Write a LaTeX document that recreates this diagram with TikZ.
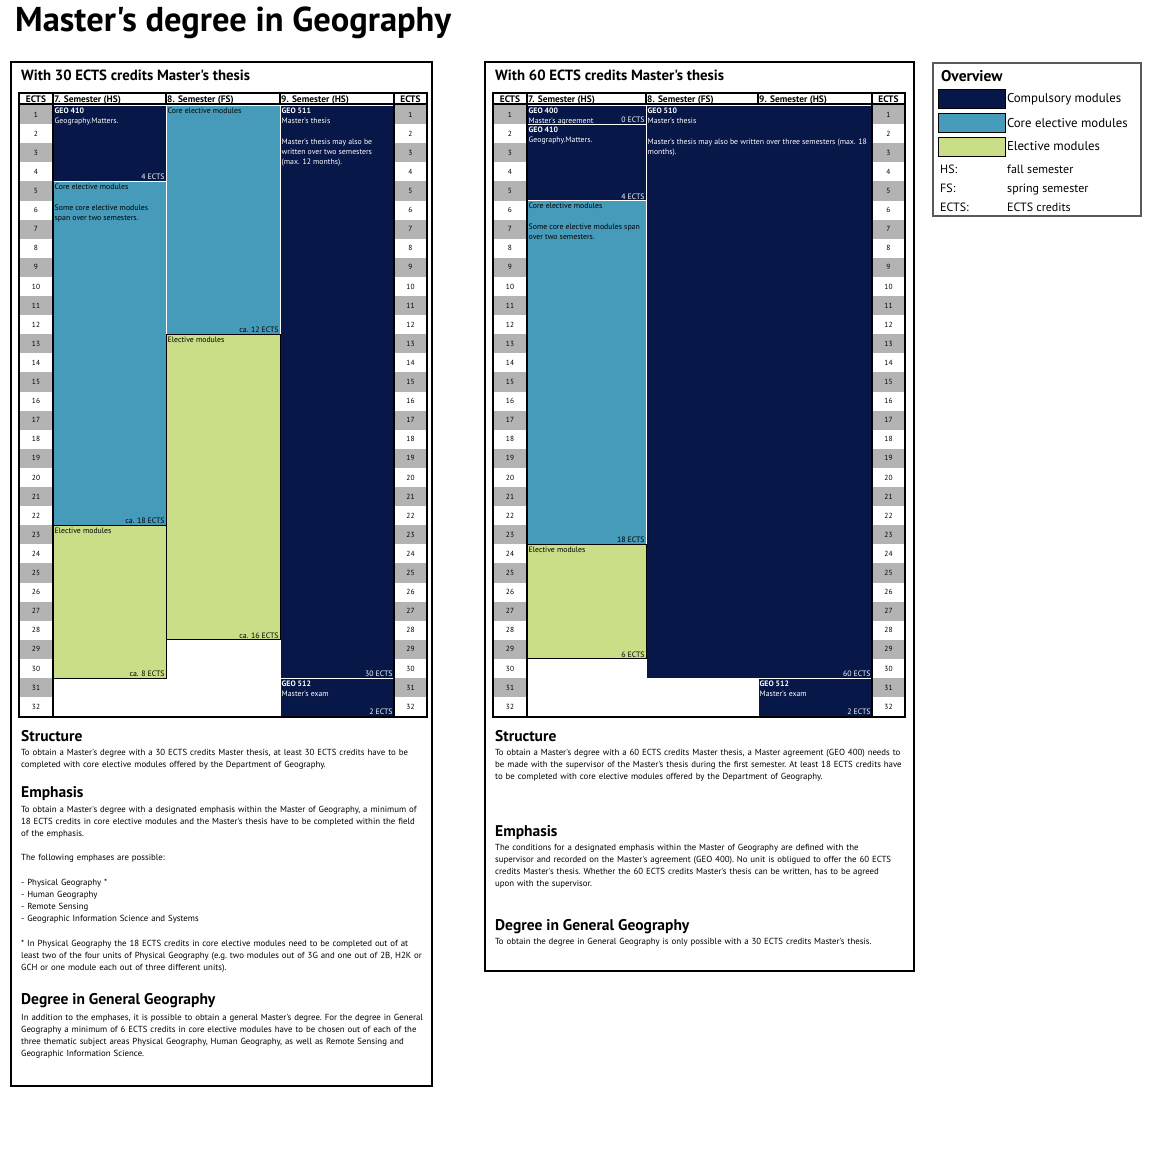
\documentclass[tikz,border=0pt]{standalone}
\usepackage{fontspec}
\setmainfont{PT Sans}[Ligatures=TeXOff]
\usetikzlibrary{positioning, calc}

\definecolor{compBlue}{HTML}{061748}
\definecolor{coreBlue}{HTML}{479BBA}
\definecolor{electGreen}{HTML}{C9DE86}
\definecolor{stripeGray}{HTML}{B3B3B3}
\definecolor{frameGray}{HTML}{5A5A5A}

% module block: name, style, x left, x right, first row, last row
\newcommand{\ModBlock}[6]{
    \node[#2, minimum width={(#4)-(#3)}, minimum height={((#6)-(#5)+1)*19.1}]
        (#1) at ({((#3)+(#4))/2}, {105+((#5)-1+((#6)-(#5)+1)/2)*19.1}) {};
}

% table: prefix, x of ECTS left, 7. Sem, 8. Sem, 9. Sem, ECTS right, right edge
\newcommand{\DrawTable}[7]{
    \foreach \r in {1,...,32}{
        \ifodd\r\relax
            \fill[stripeGray] (#2+1, {105+(\r-1)*19.1}) rectangle (#3-1, {105+\r*19.1});
            \fill[stripeGray] (#6+1, {105+(\r-1)*19.1}) rectangle (#7-1, {105+\r*19.1});
        \fi
        \node[rowNum] (#1-l\r) at ({(#2+#3)/2}, {105+(\r-0.5)*19.1}) {\r};
        \node[rowNum] (#1-r\r) at ({(#6+#7)/2}, {105+(\r-0.5)*19.1}) {\r};
    }
    \node[headText, anchor=base] (#1-hl) at ({(#2+#3)/2}, 102) {ECTS};
    \node[headText, anchor=base west] (#1-h7) at (#3, 102) {7. Semester (HS)};
    \node[headText, anchor=base west] (#1-h8) at (#4, 102) {8. Semester (FS)};
    \node[headText, anchor=base west] (#1-h9) at (#5, 102) {9. Semester (HS)};
    \node[headText, anchor=base] (#1-hr) at ({(#6+#7)/2}, 102) {ECTS};
}
\newcommand{\TableRules}[7]{
    \draw[colRule] (#3,93) -- (#3,717) (#6,93) -- (#6,717);
    \draw[colRule] (#4,93) -- (#4,104) (#5,93) -- (#5,104);
    \draw[headRule] (#2,104) -- (#7,104);
    \draw[tableFrame] (#2,93) rectangle (#7,717);
}

\tikzset{
    % Frames
    panelFrame/.style={draw=black, line width=2pt},
    tableFrame/.style={draw=black, line width=2.2pt},
    headRule/.style={draw=black, line width=2pt},
    colRule/.style={draw=black, line width=1.3pt},
    overviewFrame/.style={draw=frameGray, line width=1.2pt},
    % Table
    rowNum/.style={inner sep=0pt, font=\fontsize{7.4}{8}\selectfont},
    headText/.style={inner sep=1pt, font=\bfseries\fontsize{9.4}{10}\selectfont},
    compBlock/.style={fill=compBlue, draw=white, line width=1pt, inner sep=0pt, outer sep=0pt},
    coreBlock/.style={fill=coreBlue, draw=white, line width=1pt, inner sep=0pt, outer sep=0pt},
    electBlock/.style={fill=electGreen, draw=black, line width=1pt, inner sep=0pt, outer sep=0pt},
    modLabel/.style={anchor=north west, align=left, inner sep=1.5pt, yshift=-1pt, font=\fontsize{7.8}{10.3}\selectfont},
    ectsTag/.style={anchor=south east, inner sep=1.2pt, font=\fontsize{7.8}{8}\selectfont},
    % Text
    docTitle/.style={anchor=base west, inner sep=0pt, font=\bfseries\fontsize{34.5}{38}\selectfont},
    panelTitle/.style={anchor=base west, inner sep=0pt, font=\bfseries\fontsize{14.8}{16}\selectfont},
    sectHead/.style={anchor=base west, inner sep=0pt, font=\bfseries\fontsize{15.5}{17}\selectfont},
    bodyText/.style={anchor=base west, inner sep=0pt, text width=440pt, align=left, font=\fontsize{8.8}{12.2}\selectfont\frenchspacing},
    % Overview
    legendHead/.style={anchor=base west, inner sep=0pt, font=\bfseries\fontsize{15.5}{17}\selectfont},
    legendText/.style={inner sep=1pt, font=\fontsize{12.8}{14}\selectfont},
    keyText/.style={anchor=base west, inner sep=0pt, font=\fontsize{12}{14}\selectfont},
    swatch/.style={draw=black, line width=0.8pt, minimum width=67pt, minimum height=19pt, inner sep=0pt}
}

\begin{document}
\begin{tikzpicture}[x=1pt, y=-1pt]
    \useasboundingbox[fill=white] (0,0) rectangle (1154,1170);

    \node[docTitle] (docTitle) at (15,31) {Master's degree in Geography};

    % Left panel: 30 ECTS thesis
    \draw[panelFrame] (11,62) rectangle (432,1086);
    \node[panelTitle] (leftTitle) at (21,80) {With 30 ECTS credits Master's thesis};
    \DrawTable{lt}{19}{53}{166}{280}{394}{427}
    \ModBlock{lGeo410}{compBlock}{53}{166}{1}{4}
    \ModBlock{lCore7}{coreBlock}{53}{166}{5}{22}
    \ModBlock{lCore8}{coreBlock}{166}{280}{1}{12}
    \ModBlock{lGeo511}{compBlock}{280}{394}{1}{30}
    \ModBlock{lGeo512}{compBlock}{280}{394}{31}{32}
    \ModBlock{lElect7}{electBlock}{53}{166}{23}{30}
    \ModBlock{lElect8}{electBlock}{166}{280}{13}{28}
    \TableRules{lt}{19}{53}{166}{280}{394}{427}

    \node[modLabel, text=white] (lGeo410txt) at (lGeo410.north west) {\textbf{GEO 410}\\Geography.Matters.};
    \node[ectsTag, text=white] (lGeo410ects) at (lGeo410.south east) {4 ECTS};
    \node[modLabel] (lCore7txt) at (lCore7.north west) {Core elective modules\\[10.3pt]Some core elective modules\\span over two semesters.};
    \node[ectsTag] (lCore7ects) at (lCore7.south east) {ca. 18 ECTS};
    \node[modLabel] (lElect7txt) at (lElect7.north west) {Elective modules};
    \node[ectsTag] (lElect7ects) at (lElect7.south east) {ca. 8 ECTS};
    \node[modLabel] (lCore8txt) at (lCore8.north west) {Core elective modules};
    \node[ectsTag] (lCore8ects) at (lCore8.south east) {ca. 12 ECTS};
    \node[modLabel] (lElect8txt) at (lElect8.north west) {Elective modules};
    \node[ectsTag] (lElect8ects) at (lElect8.south east) {ca. 16 ECTS};
    \node[modLabel, text=white] (lGeo511txt) at (lGeo511.north west) {\textbf{GEO 511}\\Master's thesis\\[10.3pt]Master's thesis may also be\\written over two semesters\\(max. 12 months).};
    \node[ectsTag, text=white] (lGeo511ects) at (lGeo511.south east) {30 ECTS};
    \node[modLabel, text=white] (lGeo512txt) at (lGeo512.north west) {\textbf{GEO 512}\\Master's exam};
    \node[ectsTag, text=white] (lGeo512ects) at (lGeo512.south east) {2 ECTS};

    \node[sectHead] (lStructHead) at (21,741) {Structure};
    \node[bodyText] (lStructBody) at (21,755) {To obtain a Master's degree with a 30 ECTS credits Master thesis, at least 30 ECTS credits have to be\\completed with core elective modules offered by the Department of Geography.};
    \node[sectHead] (lEmphHead) at (21,797) {Emphasis};
    \node[bodyText] (lEmphBody) at (21,812) {To obtain a Master's degree with a designated emphasis within the Master of Geography, a minimum of\\18 ECTS credits in core elective modules and the Master's thesis have to be completed within the field\\of the emphasis.\\[12.2pt]The following emphases are possible:\\[12.2pt]- Physical Geography *\\- Human Geography\\- Remote Sensing\\- Geographic Information Science and Systems\\[12.2pt]* In Physical Geography the 18 ECTS credits in core elective modules need to be completed out of at\\least two of the four units of Physical Geography (e.g. two modules out of 3G and one out of 2B, H2K or\\GCH or one module each out of three different units).};
    \node[sectHead] (lGenHead) at (21,1004) {Degree in General Geography};
    \node[bodyText] (lGenBody) at (21,1020) {In addition to the emphases, it is possible to obtain a general Master's degree. For the degree in General\\Geography a minimum of 6 ECTS credits in core elective modules have to be chosen out of each of the\\three thematic subject areas Physical Geography, Human Geography, as well as Remote Sensing and\\Geographic Information Science.};

    % Right panel: 60 ECTS thesis
    \draw[panelFrame] (485,62) rectangle (914,971);
    \node[panelTitle] (rightTitle) at (495,80) {With 60 ECTS credits Master's thesis};
    \DrawTable{rt}{493}{527}{646}{758}{872}{905}
    \ModBlock{rGeo400}{compBlock}{527}{646}{1}{1}
    \ModBlock{rGeo410}{compBlock}{527}{646}{2}{5}
    \ModBlock{rCore7}{coreBlock}{527}{646}{6}{23}
    \ModBlock{rGeo510}{compBlock}{646}{872}{1}{30}
    \ModBlock{rGeo512}{compBlock}{758}{872}{31}{32}
    \ModBlock{rElect7}{electBlock}{527}{646}{24}{29}
    \TableRules{rt}{493}{527}{646}{758}{872}{905}

    \node[modLabel, text=white] (rGeo400txt) at (rGeo400.north west) {\textbf{GEO 400}\\Master's agreement};
    \node[ectsTag, text=white] (rGeo400ects) at (rGeo400.south east) {0 ECTS};
    \node[modLabel, text=white] (rGeo410txt) at (rGeo410.north west) {\textbf{GEO 410}\\Geography.Matters.};
    \node[ectsTag, text=white] (rGeo410ects) at (rGeo410.south east) {4 ECTS};
    \node[modLabel] (rCore7txt) at (rCore7.north west) {Core elective modules\\[10.3pt]Some core elective modules span\\over two semesters.};
    \node[ectsTag] (rCore7ects) at (rCore7.south east) {18 ECTS};
    \node[modLabel] (rElect7txt) at (rElect7.north west) {Elective modules};
    \node[ectsTag] (rElect7ects) at (rElect7.south east) {6 ECTS};
    \node[modLabel, text=white] (rGeo510txt) at (rGeo510.north west) {\textbf{GEO 510}\\Master's thesis\\[10.3pt]Master's thesis may also be written over three semesters (max. 18\\months).};
    \node[ectsTag, text=white] (rGeo510ects) at (rGeo510.south east) {60 ECTS};
    \node[modLabel, text=white] (rGeo512txt) at (rGeo512.north west) {\textbf{GEO 512}\\Master's exam};
    \node[ectsTag, text=white] (rGeo512ects) at (rGeo512.south east) {2 ECTS};

    \node[sectHead] (rStructHead) at (495,741) {Structure};
    \node[bodyText] (rStructBody) at (495,755) {To obtain a Master's degree with a 60 ECTS credits Master thesis, a Master agreement (GEO 400) needs to\\be made with the supervisor of the Master's thesis during the first semester. At least 18 ECTS credits have\\to be completed with core elective modules offered by the Department of Geography.};
    \node[sectHead] (rEmphHead) at (495,836) {Emphasis};
    \node[bodyText] (rEmphBody) at (495,850) {The conditions for a designated emphasis within the Master of Geography are defined with the\\supervisor and recorded on the Master's agreement (GEO 400). No unit is obligued to offer the 60 ECTS\\credits Master's thesis. Whether the 60 ECTS credits Master's thesis can be written, has to be agreed\\upon with the supervisor.};
    \node[sectHead] (rGenHead) at (495,930) {Degree in General Geography};
    \node[bodyText] (rGenBody) at (495,944) {To obtain the degree in General Geography is only possible with a 30 ECTS credits Master's thesis.};

    % Overview
    \draw[overviewFrame] (933,63) rectangle (1141,216);
    \node[legendHead] (ovTitle) at (941,81) {Overview};
    \node[swatch, fill=compBlue, anchor=north west] (swComp) at (938,89) {};
    \node[swatch, fill=coreBlue, below=4pt of swComp] (swCore) {};
    \node[swatch, fill=electGreen, below=4pt of swCore] (swElect) {};
    \node[legendText, right=0pt of swComp] (txtComp) {Compulsory modules};
    \node[legendText, right=0pt of swCore] (txtCore) {Core elective modules};
    \node[legendText, right=0pt of swElect] (txtElect) {Elective modules};
    \node[keyText] (keyHS) at (940,173) {HS:};
    \node[keyText] (valHS) at (1007,173) {fall semester};
    \node[keyText] (keyFS) at (940,192) {FS:};
    \node[keyText] (valFS) at (1007,192) {spring semester};
    \node[keyText] (keyECTS) at (940,211) {ECTS:};
    \node[keyText] (valECTS) at (1007,211) {ECTS credits};
\end{tikzpicture}
\end{document}
